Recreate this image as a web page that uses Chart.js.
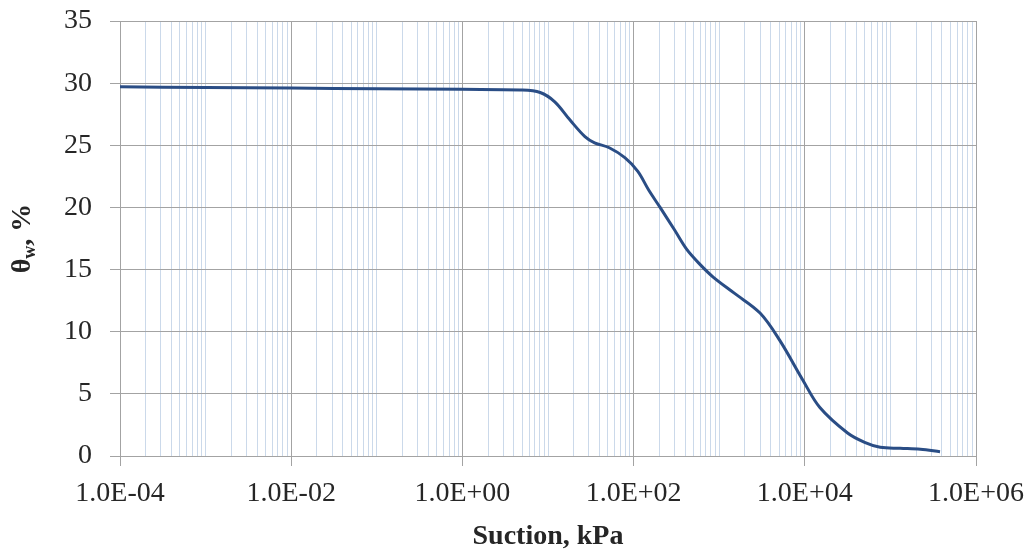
<!DOCTYPE html>
<html><head><meta charset="utf-8">
<script src="https://cdn.jsdelivr.net/npm/chart.js@4.4.1/dist/chart.umd.min.js"></script>
<style>html,body{margin:0;padding:0;background:#fff}#wrap{width:1035px;height:559px}</style>
</head><body><div id="wrap"><canvas id="c" width="1035" height="559"></canvas></div>
<script>
// Suction (kPa) and volumetric water content (%)
const suction = [1e-4, 1e-3, 1e-2, 1e-1, 1, 4.7, 8.1, 12, 18, 27, 35, 52, 79, 112, 150, 204, 300, 420, 600, 850, 1500, 3000, 5100, 9500, 15000, 31600, 50000, 76000, 130000, 224000, 380000];
const theta   = [29.7, 29.65, 29.6, 29.55, 29.5, 29.45, 29.25, 28.5, 27.05, 25.7, 25.2, 24.8, 24.0, 22.9, 21.4, 20.0, 18.2, 16.6, 15.4, 14.4, 13.1, 11.5, 9.3, 6.1, 3.9, 1.85, 1.1, 0.7, 0.62, 0.55, 0.35];

const xTickValues = [1e-4, 1e-2, 1, 1e2, 1e4, 1e6];
const xTickLabels = ['1.0E-04', '1.0E-02', '1.0E+00', '1.0E+02', '1.0E+04', '1.0E+06'];
const yTickValues = [0, 5, 10, 15, 20, 25, 30, 35];
const xTitle = 'Suction, kPa';
const yTitleMain = 'θ', yTitleSub = 'w', yTitleRest = ', %';

// gridline positions: 1..9 x 10^n
const gridValues = [];
for (let n = -4; n <= 5; n++) for (let k = 1; k <= 9; k++) gridValues.push(k * Math.pow(10, n));
gridValues.push(1e6);

function labelIndex(v) {
  for (let i = 0; i < xTickValues.length; i++) if (Math.abs(v / xTickValues[i] - 1) < 1e-6) return i;
  return -1;
}

const FONT = '"Liberation Serif", "Times New Roman", serif';
const TXT = '#262626';
const GRID_MAJOR = '#a3a3a3';
const GRID_MINOR = '#cbd9ea';

const yTitlePlugin = {
  id: 'ytitle',
  afterDraw(chart) {
    const ctx = chart.ctx, ca = chart.chartArea;
    ctx.save();
    ctx.translate(23, (ca.top + ca.bottom) / 2);
    ctx.rotate(-Math.PI / 2);
    ctx.fillStyle = TXT;
    ctx.textBaseline = 'middle';
    ctx.textAlign = 'left';
    const f1 = 'bold 28px ' + FONT, f2 = 'bold 18px ' + FONT;
    ctx.font = f1;
    const w1 = ctx.measureText(yTitleMain).width, w3 = ctx.measureText(yTitleRest).width;
    ctx.font = f2;
    const w2 = ctx.measureText(yTitleSub).width;
    let x = -(w1 + w2 + w3) / 2;
    ctx.font = f1; ctx.fillText(yTitleMain, x, 0); x += w1;
    ctx.font = f2; ctx.fillText(yTitleSub, x, 7); x += w2;
    ctx.font = f1; ctx.fillText(yTitleRest, x, 0);
    ctx.restore();
  }
};

new Chart(document.getElementById('c'), {
  type: 'line',
  data: {
    datasets: [{
      data: suction.map((s, i) => ({x: s, y: theta[i]})),
      borderColor: '#2a4d85',
      borderWidth: 3,
      pointRadius: 0,
      tension: 0.35,
      fill: false
    }]
  },
  options: {
    responsive: false,
    animation: false,
    devicePixelRatio: 1,
    layout: {padding: {left: 0, right: 59, top: 21, bottom: 0}},
    plugins: {legend: {display: false}, tooltip: {enabled: false}},
    scales: {
      x: {
        type: 'logarithmic',
        min: 1e-4, max: 1e6,
        afterBuildTicks: (scale) => { scale.ticks = gridValues.map(v => ({value: v})); },
        afterFit: (scale) => { scale.height = 103; scale.paddingLeft = 0; scale.paddingRight = 0; },
        border: {display: true, color: GRID_MAJOR, width: 1},
        grid: {
          color: (ctx) => labelIndex(ctx.tick.value) >= 0 ? GRID_MAJOR : GRID_MINOR,
          tickColor: (ctx) => labelIndex(ctx.tick.value) >= 0 ? GRID_MAJOR : 'rgba(0,0,0,0)',
          tickLength: 10,
          lineWidth: 1
        },
        ticks: {
          autoSkip: false, maxRotation: 0, minRotation: 0,
          padding: 11,
          color: TXT,
          font: {family: FONT, size: 28},
          callback: (v) => { const i = labelIndex(v); return i >= 0 ? xTickLabels[i] : ''; }
        },
        title: {display: true, text: xTitle, color: TXT, font: {family: FONT, size: 28, weight: 'bold'}, padding: {top: 0, bottom: 5}}
      },
      y: {
        min: 0, max: 35,
        afterBuildTicks: (scale) => { scale.ticks = yTickValues.map(v => ({value: v})); },
        afterFit: (scale) => { scale.width = 120; scale.paddingTop = 0; scale.paddingBottom = 0; },
        border: {display: true, color: GRID_MAJOR, width: 1},
        grid: {color: GRID_MAJOR, tickColor: GRID_MAJOR, tickLength: 10, lineWidth: 1},
        ticks: {padding: 18, color: TXT, font: {family: FONT, size: 28}}
      }
    }
  },
  plugins: [yTitlePlugin]
});
</script>
</body></html>
